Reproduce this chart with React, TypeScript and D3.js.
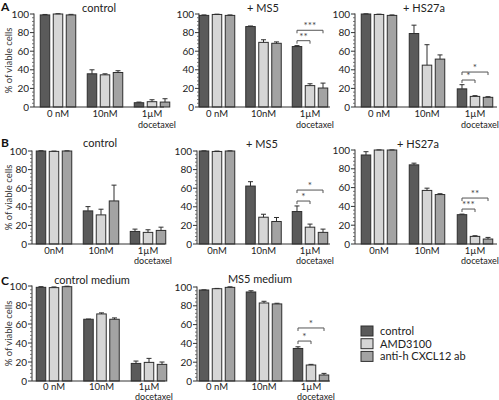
import React from 'react';
import * as d3 from 'd3';

const series = ['control', 'AMD3100', 'anti-h CXCL12 ab'];
const seriesColors = ['#5a5a5a', '#d6d6d6', '#a3a3a3'];
const catsSpaced = ['0 nM', '10nM', '1µM'];
const catsTight = ['0nM', '10nM', '1µM'];
const yTicks = [0, 20, 40, 60, 80, 100];

// values: [category][series]
const a1Values = [[99, 100, 99], [35.7, 34.6, 37.1], [4.6, 5.7, 5.3]];
const a1Errors = [[0.5, 0.3, 0.6], [4.3, 1.1, 1.9], [0.7, 2.1, 3.6]];
const a2Values = [[98.5, 99.5, 98.5], [86.5, 69.5, 68.5], [65, 23, 20.4]];
const a2Errors = [[0.5, 0.3, 0.5], [0.6, 2.8, 1.5], [1, 2, 5.3]];
const a3Values = [[100, 99.5, 98.5], [79, 45, 51.5], [19.5, 11.4, 10.4]];
const a3Errors = [[0.2, 0.3, 0.5], [9, 22, 4.5], [4.5, 0.8, 0.7]];
const b1Values = [[100, 99.6, 100], [35.6, 31.3, 46.3], [13.5, 12.5, 14.6]];
const b1Errors = [[0.3, 0.3, 0.2], [4.6, 6.1, 17], [2.5, 2.8, 3.5]];
const b2Values = [[100, 99.5, 100], [62.3, 28.8, 24.2], [34.9, 18.1, 12.5]];
const b2Errors = [[0.2, 0.4, 0.2], [4.7, 3.2, 4.3], [6, 3.3, 3.5]];
const b3Values = [[94.7, 100, 100], [84.2, 57, 52.6], [31.2, 8.1, 5.3]];
const b3Errors = [[3.5, 0.1, 0.1], [1.8, 2.4, 0.9], [0.6, 0.7, 1.7]];
const c1Values = [[98.6, 98.3, 99.3], [65, 70.6, 65], [18.5, 19.6, 17.5]];
const c1Errors = [[0.7, 0.7, 0.5], [0.2, 1.1, 1.4], [2.5, 4.2, 2.5]];
const c2Values = [[96.8, 98.2, 99.6], [94.7, 83, 82], [34.6, 17, 6.4]];
const c2Errors = [[0.2, 0.3, 0.6], [1.3, 1.8, 0.7], [1.8, 0.7, 1.7]];

// significance brackets: [category index, from series, to series, height (value), label]
const a2Sig = [[2, 0, 1, 71.3, '**'], [2, 0, 2, 82.5, '***']];
const a3Sig = [[2, 0, 1, 29, '*'], [2, 0, 2, 37.6, '*']];
const b2Sig = [[2, 0, 1, 46.2, '*'], [2, 0, 2, 58, '*']];
const b3Sig = [[2, 0, 1, 37.2, '***'], [2, 0, 2, 48.9, '**']];
const c2Sig = [[2, 0, 1, 42.5, '*'], [2, 0, 2, 56.4, '*']];

const FONT = 'Lato, "Open Sans", "DejaVu Sans", sans-serif';

type Panel = {
  title: string; titleX: number; titleY: number;
  axisX: number; xEnd: number; y100: number; y0: number;
  c0: number; c2: number; cats: string[]; catY: number; docY: number;
  values: number[][]; errors: number[][]; sig: any[];
};

const panels: Panel[] = [
  { title: 'control', titleX: 99, titleY: 12, axisX: 34, xEnd: 164, y100: 14, y0: 107, c0: 58, c2: 152, cats: catsSpaced, catY: 10, docY: 20.5, values: a1Values, errors: a1Errors, sig: [] },
  { title: '+ MS5', titleX: 263, titleY: 12, axisX: 199, xEnd: 330, y100: 14, y0: 107, c0: 217, c2: 310, cats: catsSpaced, catY: 10, docY: 20.5, values: a2Values, errors: a2Errors, sig: a2Sig },
  { title: '+ HS27a', titleX: 424, titleY: 12, axisX: 355, xEnd: 497, y100: 14, y0: 107, c0: 379, c2: 475, cats: catsSpaced, catY: 10, docY: 20.5, values: a3Values, errors: a3Errors, sig: a3Sig },
  { title: 'control', titleX: 100, titleY: 147, axisX: 32, xEnd: 165, y100: 151, y0: 244, c0: 54, c2: 148, cats: catsTight, catY: 10, docY: 20, values: b1Values, errors: b1Errors, sig: [] },
  { title: '+ MS5', titleX: 262, titleY: 148, axisX: 197, xEnd: 330, y100: 151, y0: 244, c0: 217, c2: 310, cats: catsTight, catY: 10, docY: 20, values: b2Values, errors: b2Errors, sig: b2Sig },
  { title: '+ HS27a', titleX: 418, titleY: 148, axisX: 355, xEnd: 497, y100: 150, y0: 244, c0: 379, c2: 475, cats: catsTight, catY: 10, docY: 20, values: b3Values, errors: b3Errors, sig: b3Sig },
  { title: 'control medium', titleX: 92, titleY: 284, axisX: 32, xEnd: 165, y100: 286, y0: 381, c0: 54, c2: 149, cats: catsSpaced, catY: 9, docY: 18.5, values: c1Values, errors: c1Errors, sig: [] },
  { title: 'MS5 medium', titleX: 260, titleY: 283, axisX: 197, xEnd: 330, y100: 287, y0: 381, c0: 217, c2: 311, cats: catsSpaced, catY: 9, docY: 18.5, values: c2Values, errors: c2Errors, sig: c2Sig },
];

const offset = d3.scaleBand<string>().domain(series).range([-17.75, 17.75]).paddingInner(0.27);

function PanelView({ p, showYLabel }: { p: Panel; showYLabel: boolean }) {
  const y = d3.scaleLinear().domain([0, 100]).range([p.y0, p.y100]);
  const x = d3.scalePoint<string>().domain(p.cats).range([p.c0, p.c2]);
  const minor = d3.range(0, 101, 4).filter((v) => v % 20 !== 0);
  const bw = offset.bandwidth();
  const barX = (ci: number, si: number) => (x(p.cats[ci]) as number) + (offset(series[si]) as number);
  return (
    <g>
      <text x={p.titleX} y={p.titleY} textAnchor="middle" fontSize={11} fill="#222">{p.title}</text>
      {showYLabel && (
        <text transform={`translate(12,${(p.y0 + p.y100) / 2}) rotate(-90)`} textAnchor="middle" fontSize={9.5} fill="#333">% of viable cells</text>
      )}
      {p.values.map((row, ci) => row.map((v, si) => {
        const bx = barX(ci, si);
        const top = y(v);
        const et = y(v + p.errors[ci][si]);
        const cx = bx + bw / 2;
        return (
          <g key={`${ci}-${si}`}>
            <rect x={bx} y={top} width={bw} height={p.y0 - top} fill={seriesColors[si]} stroke="#2e2e2e" strokeWidth={1} />
            <line x1={cx} x2={cx} y1={top} y2={et} stroke="#2e2e2e" strokeWidth={1} />
            <line x1={cx - 2.5} x2={cx + 2.5} y1={et} y2={et} stroke="#2e2e2e" strokeWidth={1} />
          </g>
        );
      }))}
      <line x1={p.axisX} x2={p.axisX} y1={p.y100 - 0.5} y2={p.y0} stroke="#333" strokeWidth={1} />
      <line x1={p.axisX} x2={p.xEnd} y1={p.y0} y2={p.y0} stroke="#333" strokeWidth={1} />
      {yTicks.map((t) => (
        <g key={t}>
          <line x1={p.axisX - 4} x2={p.axisX} y1={y(t)} y2={y(t)} stroke="#333" />
          <text x={p.axisX - 5} y={y(t) + 3.5} textAnchor="end" fontSize={10} fill="#222">{t}</text>
        </g>
      ))}
      {minor.map((t) => (
        <line key={`m${t}`} x1={p.axisX - 2} x2={p.axisX} y1={y(t)} y2={y(t)} stroke="#555" strokeWidth={0.8} />
      ))}
      {p.cats.map((c, i) => (
        <g key={c}>
          <text x={x(c) as number} y={p.y0 + p.catY} textAnchor="middle" fontSize={9.5} fill="#222">{c}</text>
          {i === 2 && (
            <text x={(x(c) as number) - 14} y={p.y0 + p.docY} textAnchor="start" fontSize={9} fill="#222">docetaxel</text>
          )}
        </g>
      ))}
      {p.sig.map((s: any, k: number) => {
        const [ci, a, b, h, label] = s;
        const x1 = barX(ci, a) + bw / 2;
        const x2 = barX(ci, b) + bw / 2;
        const yy = y(h);
        return (
          <g key={`s${k}`}>
            <path d={`M${x1},${yy + 3}V${yy}H${x2}V${yy + 3}`} fill="none" stroke="#555" strokeWidth={1} />
            <text x={(x1 + x2) / 2} y={yy - 1} textAnchor="middle" fontSize={10} fill="#444">{label}</text>
          </g>
        );
      })}
    </g>
  );
}

export default function App() {
  return (
    <svg width={499} height={400} style={{ position: 'absolute', left: 0, top: 0, fontFamily: FONT, background: '#fff' }}>
      <rect width={499} height={400} fill="#fff" />
      <text x={1} y={11} fontSize={12} fontWeight="bold" fill="#111">A</text>
      <text x={1} y={147} fontSize={12} fontWeight="bold" fill="#111">B</text>
      <text x={1} y={285} fontSize={12} fontWeight="bold" fill="#111">C</text>
      {panels.map((p, i) => (
        <PanelView key={i} p={p} showYLabel={i === 0 || i === 3 || i === 6} />
      ))}
      {series.map((s, i) => (
        <g key={s}>
          <rect x={361} y={326 + i * 12.7} width={12} height={10} fill={seriesColors[i]} stroke="#2e2e2e" strokeWidth={1} />
          <text x={380} y={335 + i * 12.7} fontSize={11} fill="#222">{s}</text>
        </g>
      ))}
    </svg>
  );
}
